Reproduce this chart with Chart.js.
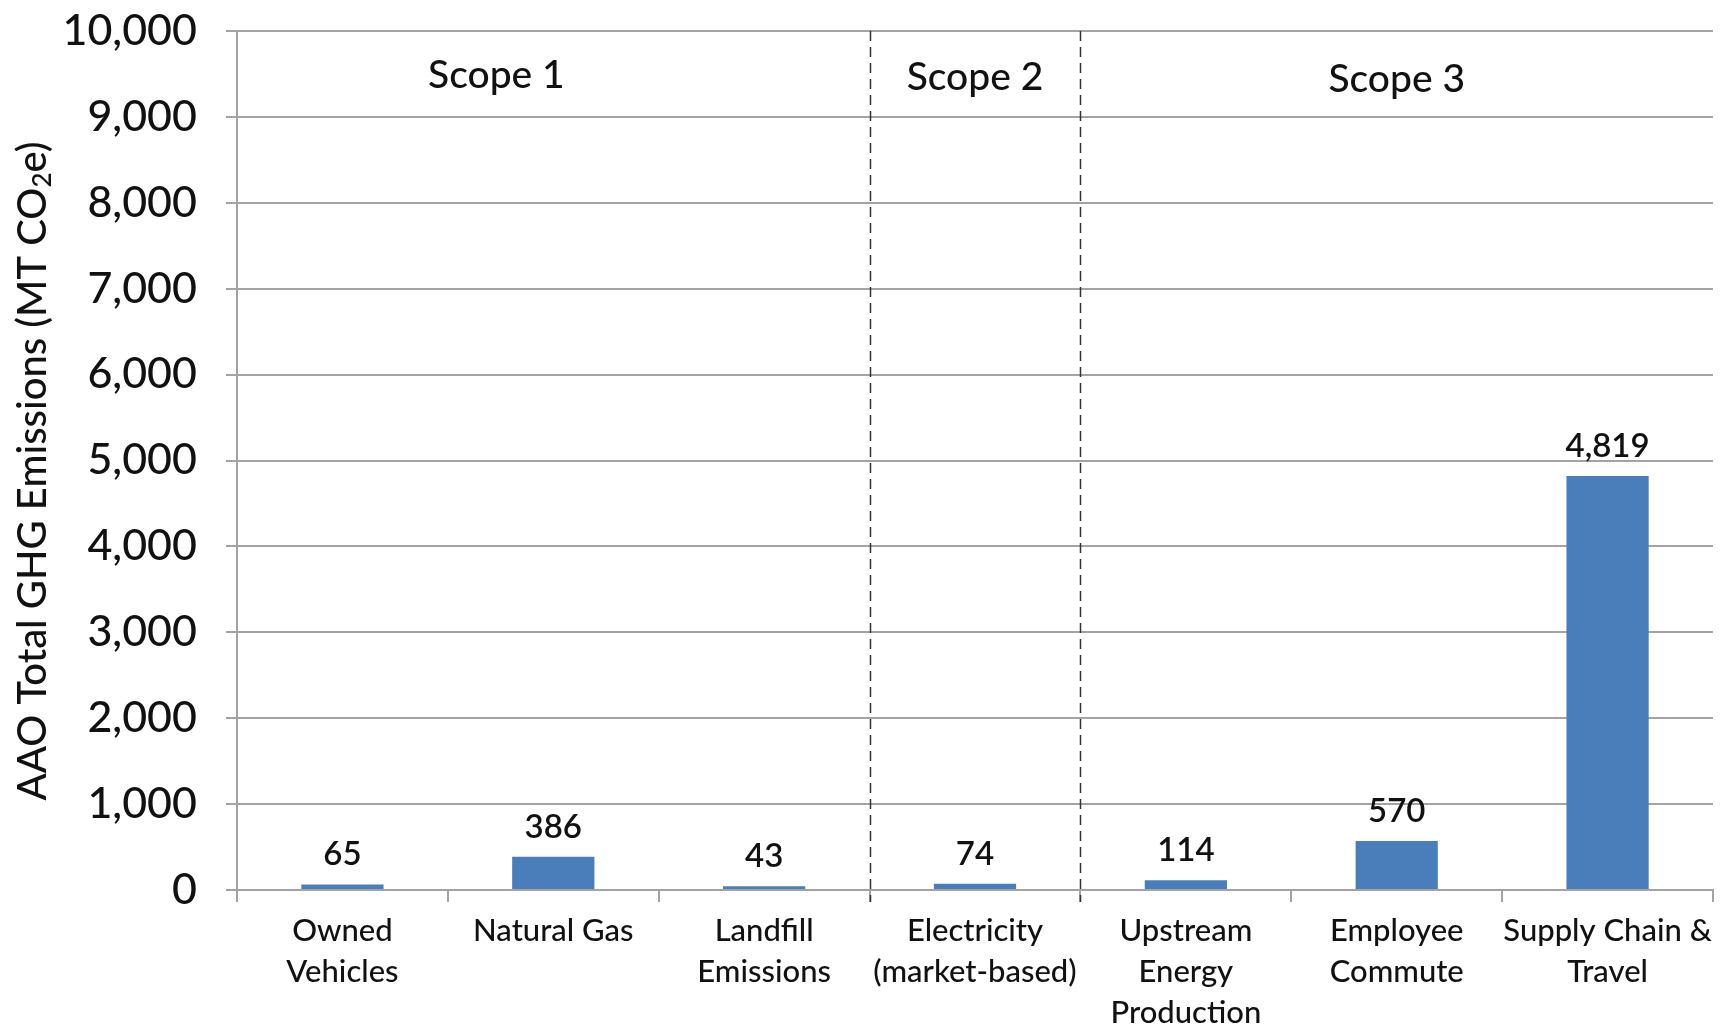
<!DOCTYPE html>
<html>
<head>
<meta charset="utf-8">
<script src="https://cdn.jsdelivr.net/npm/chart.js@4"></script>
<style>
  html, body { margin: 0; padding: 0; background: #fff; }
  #wrap { width: 1730px; height: 1031px; position: relative; }
</style>
</head>
<body>
<div id="wrap"><canvas id="chartGHG"></canvas></div>
<script>
// Emisiones totales de GEI por fuente (MT CO2e)

const categorias = [
  ['Owned', 'Vehicles'],
  'Natural Gas',
  ['Landfill', 'Emissions'],
  ['Electricity', '(market-based)'],
  ['Upstream', 'Energy', 'Production'],
  ['Employee', 'Commute'],
  ['Supply Chain &', 'Travel']
];
const emisiones = [65, 386, 43, 74, 114, 570, 4819];
const alcances = ['Scope 1', 'Scope 2', 'Scope 3'];
const yTicks = [0, 1000, 2000, 3000, 4000, 5000, 6000, 7000, 8000, 9000, 10000];

const FONT = 'Lato, "Open Sans", sans-serif';
const GRIS = '#a3a3a3';

// Etiquetas de valor, divisores de alcance y título del eje Y
const extras = {
  id: 'extras',
  afterDatasetsDraw(chart) {
    const { ctx, chartArea, scales } = chart;
    const x = scales.x;

    // líneas discontinuas entre alcances
    ctx.save();
    ctx.strokeStyle = '#333';
    ctx.lineWidth = 1.5;
    ctx.setLineDash([10, 6]);
    [2.5, 3.5].forEach(v => {
      const px = Math.round(x.getPixelForValue(v)) + 0.5;
      ctx.beginPath();
      ctx.moveTo(px, chartArea.top);
      ctx.lineTo(px, chartArea.bottom + 12);
      ctx.stroke();
    });
    ctx.restore();

    // nombres de alcance
    ctx.save();
    ctx.fillStyle = '#111';
    ctx.font = '500 39px ' + FONT;
    ctx.textAlign = 'center';
    ctx.textBaseline = 'middle';
    const posAlcance = [0.73, 3, 5];
    const yAlcance = [75, 77, 79];
    alcances.forEach((s, i) => {
      ctx.fillText(s, x.getPixelForValue(posAlcance[i]), yAlcance[i]);
    });
    ctx.restore();

    // valores sobre las barras
    ctx.save();
    ctx.fillStyle = '#111';
    ctx.font = '600 33px ' + FONT;
    ctx.textAlign = 'center';
    ctx.textBaseline = 'alphabetic';
    const meta = chart.getDatasetMeta(0);
    meta.data.forEach((bar, i) => {
      ctx.fillText(emisiones[i].toLocaleString('en-US'), bar.x, bar.y - 19);
    });
    ctx.restore();

    // título del eje Y con subíndice
    ctx.save();
    ctx.translate(33, 471);
    ctx.rotate(-Math.PI / 2);
    ctx.fillStyle = '#111';
    ctx.textBaseline = 'middle';
    const big = '500 40px ' + FONT, small = '500 26px ' + FONT;
    const p1 = 'AAO Total GHG Emissions (MT CO', p2 = '2', p3 = 'e)';
    ctx.font = big;
    const w1 = ctx.measureText(p1).width, w3 = ctx.measureText(p3).width;
    ctx.font = small;
    const w2 = ctx.measureText(p2).width;
    let cx = -(w1 + w2 + w3) / 2;
    ctx.font = big;
    ctx.fillText(p1, cx, 0);
    cx += w1;
    ctx.font = small;
    ctx.fillText(p2, cx, 10);
    cx += w2;
    ctx.font = big;
    ctx.fillText(p3, cx, 0);
    ctx.restore();
  }
};

const ctxBar = document.getElementById('chartGHG');
new Chart(ctxBar, {
  type: 'bar',
  data: {
    labels: categorias,
    datasets: [{
      data: emisiones,
      backgroundColor: '#4a7ebb',
      categoryPercentage: 1,
      barPercentage: 0.39
    }]
  },
  options: {
    responsive: true,
    maintainAspectRatio: false,
    animation: false,
    devicePixelRatio: 1,
    layout: { padding: { left: 0, top: 31, right: 17, bottom: 0 } },
    plugins: { legend: { display: false }, tooltip: { enabled: false } },
    scales: {
      x: {
        grid: { display: true, drawOnChartArea: false, drawTicks: true, tickLength: 12, color: GRIS, lineWidth: 2, offset: true },
        border: { display: true, color: GRIS, width: 2 },
        ticks: {
          color: '#111', font: { family: FONT, size: 31, weight: '500', lineHeight: 1.32 },
          maxRotation: 0, minRotation: 0, autoSkip: false, padding: 9
        },
        afterFit: s => { s.height = 141; }
      },
      y: {
        min: 0, max: 10000,
        afterBuildTicks: s => { s.ticks = yTicks.map(v => ({ value: v })); },
        grid: { color: GRIS, lineWidth: 2, tickLength: 11 },
        border: { display: true, color: GRIS, width: 2 },
        ticks: {
          color: '#111', font: { family: FONT, size: 43, weight: '500' }, padding: 29,
          callback: v => v.toLocaleString('en-US')
        },
        // ancho fijo y sin relleno vertical extra por las etiquetas
        afterFit: s => { s.width = 237; s.paddingTop = 0; s.paddingBottom = 0; }
      }
    }
  },
  plugins: [extras]
});
</script>
</body>
</html>
